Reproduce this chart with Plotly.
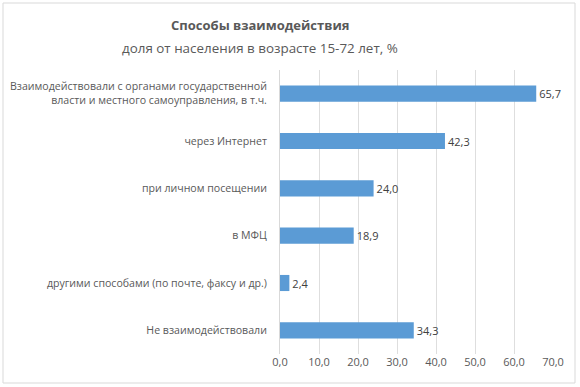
import plotly.graph_objects as go

categories = [
    "Взаимодействовали с органами государственной<br>власти и местного самоуправления, в т.ч.",
    "через Интернет",
    "при личном посещении",
    "в МФЦ",
    "другими способами (по почте, факсу и др.)",
    "Не взаимодействовали",
]
values = [65.7, 42.3, 24.0, 18.9, 2.4, 34.3]
x_ticks = [0, 10, 20, 30, 40, 50, 60, 70]

W, H = 580, 387
L, R, T, B = 280, 27, 70, 33
pw, ph = W - L - R, H - T - B

FONT = "Open Sans"
GRAY = "#595959"

fig = go.Figure(go.Bar(
    x=values, y=categories, orientation="h",
    marker=dict(color="#5B9BD5", line=dict(width=0)),
    width=0.34,
    text=values, texttemplate="%{x:.1f}", textposition="outside",
    textfont=dict(family=FONT, size=11, color="#404040"),
    cliponaxis=False,
))

fig.update_layout(
    width=W, height=H,
    margin=dict(l=L, r=R, t=T, b=B, autoexpand=False),
    paper_bgcolor="white", plot_bgcolor="white",
    separators=", ",
    showlegend=False,
    font=dict(family=FONT, size=11, color=GRAY),
    xaxis=dict(
        range=[0, 70], tickvals=x_ticks, tickformat=".1f",
        showgrid=True, gridcolor="#dedede", gridwidth=1,
        zeroline=False, showline=False, ticks="",
        tickfont=dict(family=FONT, size=11, color=GRAY),
        fixedrange=True,
    ),
    yaxis=dict(
        autorange="reversed", showgrid=False, zeroline=False,
        showline=True, linecolor="#d9d9d9", linewidth=1,
        ticks="", ticklabelstandoff=10,
        tickfont=dict(family=FONT, size=10.6, color=GRAY),
        fixedrange=True,
    ),
    bargap=0.66,
    annotations=[
        dict(text="<b>Способы взаимодействия</b>", xref="paper", yref="paper",
             x=(260 - L) / pw, y=(H - 25 - B) / ph, xanchor="center", yanchor="middle",
             showarrow=False, font=dict(family=FONT, size=13, color=GRAY)),
        dict(text="доля от населения в возрасте 15-72 лет, %", xref="paper", yref="paper",
             x=(260 - L) / pw, y=(H - 48 - B) / ph, xanchor="center", yanchor="middle",
             showarrow=False, font=dict(family=FONT, size=13.4, color=GRAY)),
    ],
    shapes=[
        dict(type="rect", xref="paper", yref="paper",
             x0=(3 - L) / pw, x1=(575 - L) / pw,
             y0=(H - 383 - B) / ph, y1=(H - 3 - B) / ph,
             line=dict(color="#d9d9d9", width=1), fillcolor="rgba(0,0,0,0)", layer="below"),
    ],
)

fig.write_html("out.html", config={"displayModeBar": False},
               post_script="document.body.style.margin='0';document.body.style.overflow='hidden';")
